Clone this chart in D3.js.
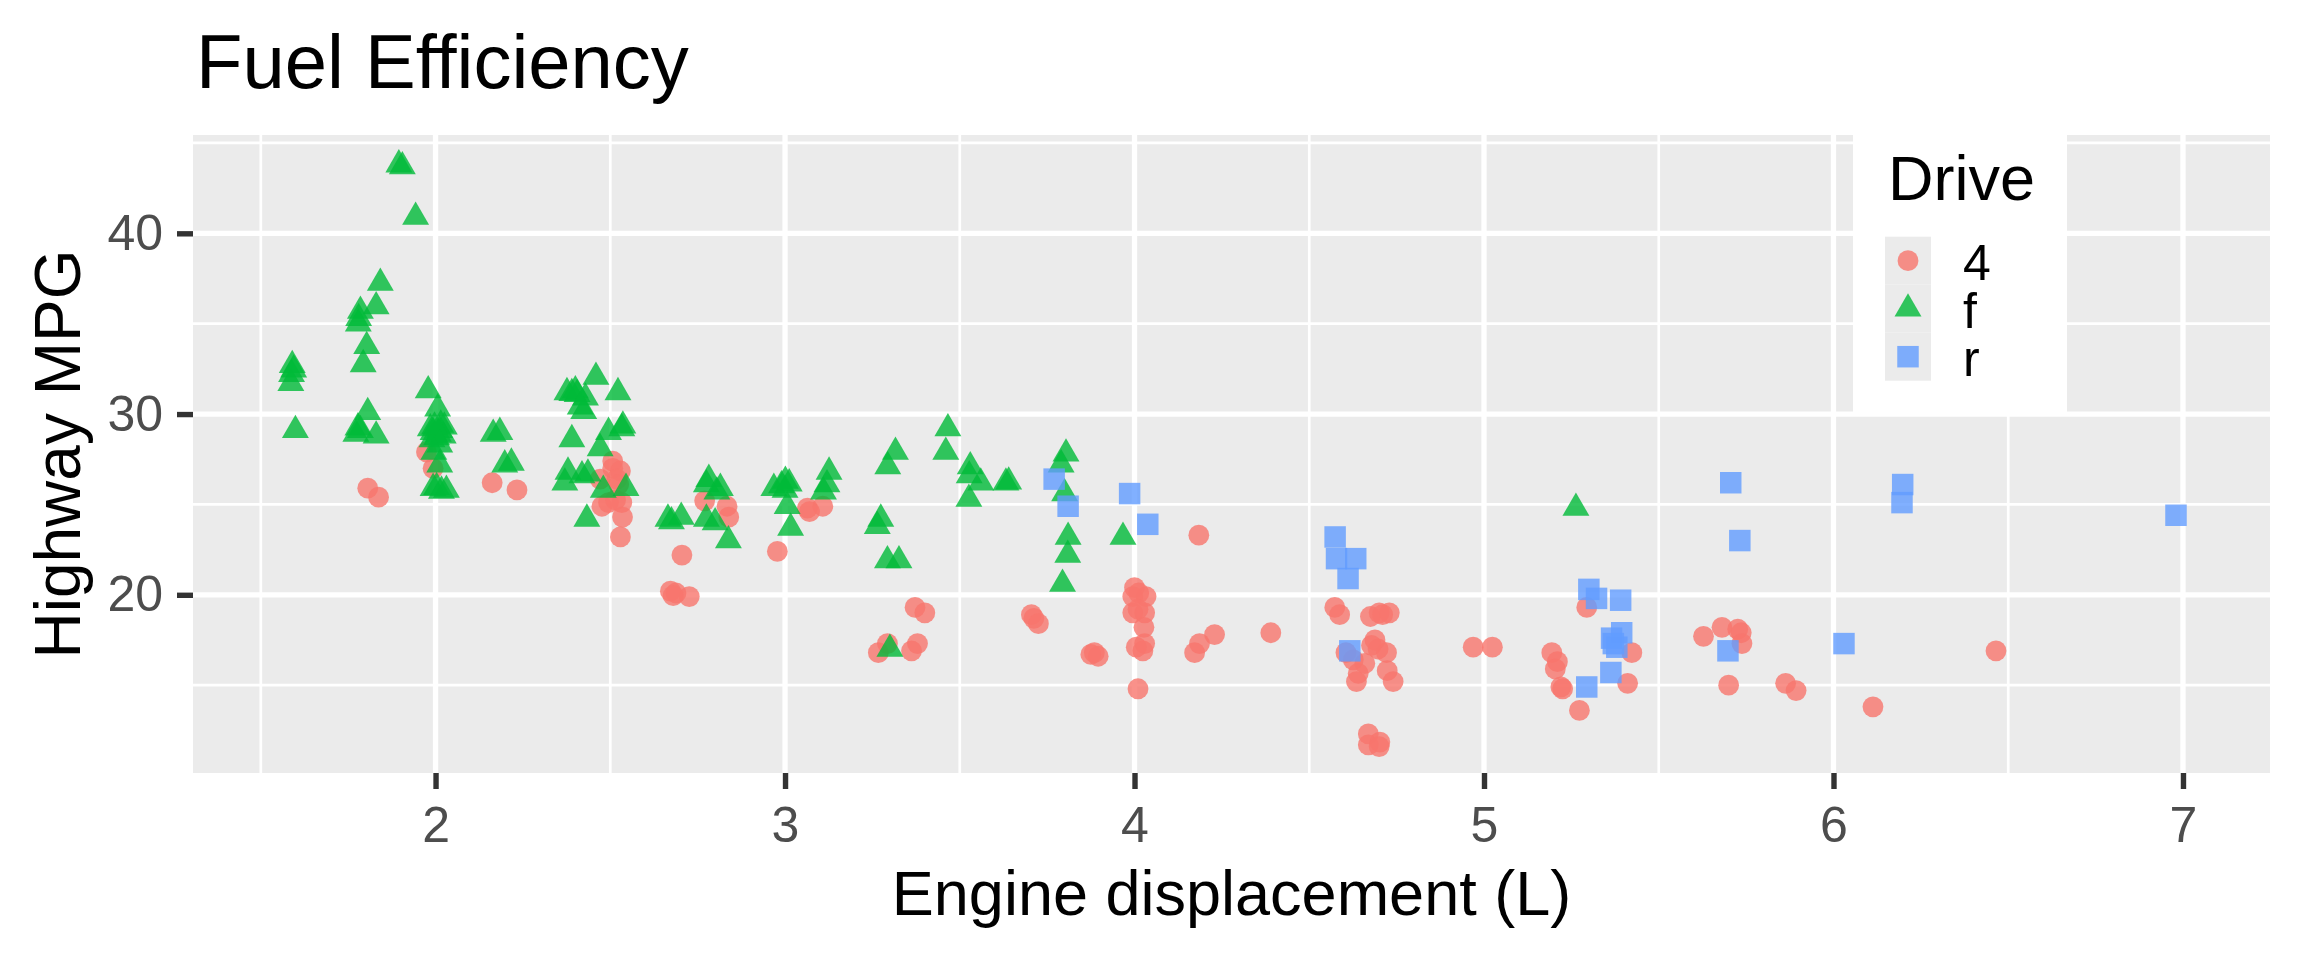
<!DOCTYPE html>
<html>
<head>
<meta charset="utf-8">
<script src="https://cdn.jsdelivr.net/npm/d3@7"></script>
<style>
  body { margin: 0; background: #fff; }
  svg { display: block; font-family: "Liberation Sans", Arial, sans-serif; }
</style>
</head>
<body>
<svg></svg>
<script>
const width = 2304, height = 960;

// Jittered points: [displ, hwy]
const fourWheel = [
  [1.806, 25.9], [1.837, 25.4], [1.974, 27.9], [1.993, 27.0], [2.162, 26.2], [2.233, 25.8],
  [2.507, 27.4], [2.507, 27.0], [2.529, 26.85], [2.471, 26.4], [2.519, 26.4], [2.524, 26.1],
  [2.476, 24.9], [2.495, 25.1], [2.533, 25.1], [2.515, 25.25], [2.535, 24.3], [2.529, 23.2],
  [2.705, 22.2], [2.672, 20.2], [2.688, 20.1], [2.726, 19.9], [2.68, 19.95],
  [2.77, 25.2], [2.834, 24.9], [2.839, 24.3], [2.978, 22.4],
  [3.064, 24.8], [3.108, 24.9], [3.07, 24.6],
  [3.267, 16.8], [3.293, 17.3], [3.362, 16.9], [3.379, 17.3], [3.372, 19.3], [3.40, 19.0],
  [3.705, 18.9], [3.712, 18.7], [3.725, 18.4], [3.875, 16.7], [3.896, 16.6], [3.885, 16.8],
  [4.00, 20.4], [4.033, 19.9], [3.995, 19.9], [4.012, 20.1], [3.995, 19.0], [4.029, 19.0],
  [4.01, 19.2], [4.027, 18.2], [4.029, 17.3], [4.024, 16.9], [4.005, 17.1], [4.01, 14.8],
  [4.184, 23.3], [4.172, 16.8], [4.186, 17.3], [4.229, 17.8], [4.39, 17.9],
  [4.573, 19.3], [4.587, 18.9], [4.605, 16.8], [4.626, 16.4], [4.64, 15.65], [4.635, 15.2],
  [4.675, 18.8], [4.70, 19.0], [4.729, 19.0], [4.71, 18.9], [4.678, 17.2], [4.697, 17.0],
  [4.721, 16.8], [4.688, 17.5], [4.659, 16.2], [4.723, 15.8], [4.74, 15.2],
  [4.669, 12.3], [4.702, 11.85], [4.669, 11.7], [4.70, 11.6],
  [4.969, 17.1], [5.024, 17.1],
  [5.194, 16.8], [5.21, 16.3], [5.204, 15.9], [5.225, 14.8], [5.22, 14.9],
  [5.294, 19.3], [5.273, 13.6], [5.423, 16.8], [5.411, 15.1],
  [5.628, 17.7], [5.681, 18.2], [5.726, 18.1], [5.736, 17.9], [5.738, 17.3], [5.70, 15.0],
  [5.863, 15.1], [5.893, 14.7], [6.113, 13.8], [6.465, 16.9]
];

const frontWheel = [
  [1.590, 32.7], [1.594, 32.45], [1.586, 31.7], [1.588, 32.2], [1.599, 29.1],
  [1.842, 37.25], [1.83, 35.95], [1.785, 35.7], [1.78, 35.3], [1.779, 35.0], [1.803, 33.75],
  [1.793, 32.75], [1.806, 30.1], [1.778, 29.25], [1.772, 28.9], [1.83, 28.8], [1.785, 29.1],
  [1.895, 43.8], [1.905, 43.7], [1.943, 40.9],
  [1.979, 31.3], [2.006, 30.3],
  [1.985, 29.2], [1.993, 29.0], [2.012, 29.1], [2.022, 28.8], [2.003, 28.7],
  [2.015, 29.4], [1.99, 28.6], [2.025, 29.3], [2.008, 28.9], [1.997, 29.3],
  [2.012, 28.3], [1.995, 27.9], [2.012, 27.2],
  [2.003, 25.95], [2.031, 25.8], [1.993, 25.9], [2.017, 25.75],
  [2.165, 28.9], [2.184, 29.0], [2.198, 27.2], [2.217, 27.3],
  [2.376, 31.2], [2.39, 31.15], [2.405, 31.1], [2.429, 30.9], [2.40, 31.3],
  [2.424, 30.15], [2.414, 30.4], [2.39, 28.6],
  [2.379, 26.8], [2.419, 26.6], [2.436, 26.7], [2.37, 26.2], [2.433, 24.2],
  [2.459, 32.05], [2.522, 31.2], [2.495, 29.0], [2.533, 29.2], [2.536, 29.35],
  [2.471, 28.1], [2.545, 25.9], [2.48, 25.8],
  [2.665, 24.2], [2.703, 24.3], [2.675, 24.05],
  [2.782, 26.4], [2.815, 25.9], [2.775, 26.1], [2.805, 25.7],
  [2.775, 24.2], [2.80, 24.0], [2.838, 23.0],
  [2.968, 25.9], [3.001, 26.3], [2.99, 26.05], [3.012, 26.15], [3.0, 25.8], [3.006, 24.9], [3.016, 23.7],
  [3.126, 26.8], [3.12, 26.1], [3.11, 25.7],
  [3.316, 27.9], [3.294, 27.1], [3.274, 24.2], [3.264, 23.8],
  [3.293, 21.9], [3.326, 21.9], [3.30, 17.0],
  [3.466, 29.2], [3.46, 27.9], [3.53, 27.1], [3.527, 26.6], [3.56, 26.2], [3.526, 25.3],
  [3.632, 26.2], [3.64, 26.25],
  [3.804, 27.8], [3.79, 27.2], [3.80, 25.6], [3.81, 23.2], [3.809, 22.2], [3.794, 20.6],
  [3.967, 23.2], [5.263, 24.8]
];

const rearWheel = [
  [3.77, 26.4], [3.81, 24.9], [3.986, 25.6], [4.038, 23.9],
  [4.574, 23.2], [4.578, 22.0], [4.633, 22.0], [4.611, 20.9], [4.616, 16.9],
  [5.30, 20.3], [5.322, 19.8], [5.391, 19.7], [5.365, 17.6], [5.394, 17.9], [5.38, 17.1],
  [5.37, 17.3], [5.363, 15.7], [5.294, 14.9],
  [5.698, 16.9], [5.706, 26.2], [5.732, 23.0], [6.03, 17.3],
  [6.198, 26.1], [6.196, 25.1], [6.98, 24.4]
];

const drives = ["4", "f", "r"];
const xTicks = [2, 3, 4, 5, 6, 7];
const xMinor = [1.5, 2.5, 3.5, 4.5, 5.5, 6.5];
const yTicks = [20, 30, 40];
const yMinor = [15, 25, 35, 45];

const colors = { "4": "#F8766D", "f": "#00BA38", "r": "#619CFF" };
const symbols = {
  "4": d3.symbol().type(d3.symbolCircle).size(340),
  "f": d3.symbol().type(d3.symbolTriangle).size(314),
  "r": d3.symbol().type(d3.symbolSquare).size(462)
};

const panel = { left: 193, right: 2270, top: 135, bottom: 773 };

const x = d3.scaleLinear().domain([1.306, 7.249]).range([panel.left, panel.right]);
const y = d3.scaleLinear().domain([10.14, 45.44]).range([panel.bottom, panel.top]);

const svg = d3.select("svg").attr("width", width).attr("height", height);

// Panel background
svg.append("rect")
  .attr("x", panel.left).attr("y", panel.top)
  .attr("width", panel.right - panel.left).attr("height", panel.bottom - panel.top)
  .attr("fill", "#EBEBEB");

// Grid lines
const grid = svg.append("g").attr("stroke", "#fff");
grid.selectAll(".xminor").data(xMinor).enter().append("line")
  .attr("x1", d => x(d)).attr("x2", d => x(d))
  .attr("y1", panel.top).attr("y2", panel.bottom).attr("stroke-width", 2.7);
grid.selectAll(".yminor").data(yMinor).enter().append("line")
  .attr("y1", d => y(d)).attr("y2", d => y(d))
  .attr("x1", panel.left).attr("x2", panel.right).attr("stroke-width", 2.7);
grid.selectAll(".xmajor").data(xTicks).enter().append("line")
  .attr("x1", d => x(d)).attr("x2", d => x(d))
  .attr("y1", panel.top).attr("y2", panel.bottom).attr("stroke-width", 5.3);
grid.selectAll(".ymajor").data(yTicks).enter().append("line")
  .attr("y1", d => y(d)).attr("y2", d => y(d))
  .attr("x1", panel.left).attr("x2", panel.right).attr("stroke-width", 5.3);

// Points
const points = [];
[fourWheel, frontWheel, rearWheel].forEach((series, i) => {
  series.forEach(p => points.push({ displ: p[0], hwy: p[1], drv: drives[i] }));
});

svg.append("g").selectAll("path")
  .data(points)
  .enter().append("path")
  .attr("d", d => symbols[d.drv]())
  .attr("transform", d => `translate(${x(d.displ)},${y(d.hwy)})`)
  .attr("fill", d => colors[d.drv])
  .attr("opacity", 0.8);

// Axes
function styleAxis(g) {
  g.select(".domain").remove();
  g.selectAll(".tick line").attr("stroke", "#333333").attr("stroke-width", 5.4);
  g.selectAll(".tick text").attr("fill", "#4D4D4D").attr("font-size", "50px")
    .attr("font-family", "Liberation Sans, Arial, sans-serif");
}

svg.append("g")
  .attr("transform", `translate(0,${panel.bottom})`)
  .call(d3.axisBottom(x).tickValues(xTicks).tickSize(16).tickPadding(17.5).tickFormat(d3.format("d")))
  .call(styleAxis);

svg.append("g")
  .attr("transform", `translate(${panel.left},0)`)
  .call(d3.axisLeft(y).tickValues(yTicks).tickSize(16).tickPadding(14).tickFormat(d3.format("d")))
  .call(styleAxis);

// Titles
svg.append("text")
  .attr("x", 196).attr("y", 88)
  .attr("font-size", "76px").attr("fill", "#000")
  .text("Fuel Efficiency");

svg.append("text")
  .attr("x", (panel.left + panel.right) / 2).attr("y", 915)
  .attr("text-anchor", "middle")
  .attr("font-size", "63px").attr("fill", "#000")
  .text("Engine displacement (L)");

svg.append("text")
  .attr("transform", `translate(80,${(panel.top + panel.bottom) / 2}) rotate(-90)`)
  .attr("text-anchor", "middle")
  .attr("font-size", "64px").attr("fill", "#000")
  .text("Highway MPG");

// Legend
const legend = svg.append("g");
legend.append("rect")
  .attr("x", 1853).attr("y", panel.top)
  .attr("width", 214).attr("height", 278)
  .attr("fill", "#fff");
legend.append("text")
  .attr("x", 1888).attr("y", 200)
  .attr("font-size", "63px").attr("fill", "#000")
  .text("Drive");

const keyTop = 236.7, keyH = 48;
const keys = legend.selectAll(".key").data(drives).enter().append("g")
  .attr("transform", (d, i) => `translate(1885,${keyTop + i * keyH})`);
keys.append("rect")
  .attr("width", 46).attr("height", keyH)
  .attr("fill", "#EBEBEB");
keys.append("path")
  .attr("d", d => symbols[d]())
  .attr("transform", `translate(23,${keyH / 2})`)
  .attr("fill", d => colors[d])
  .attr("opacity", 0.8);
keys.append("text")
  .attr("x", 78).attr("y", keyH / 2 + 19)
  .attr("font-size", "50px").attr("fill", "#000")
  .text(d => d);
</script>
</body>
</html>
